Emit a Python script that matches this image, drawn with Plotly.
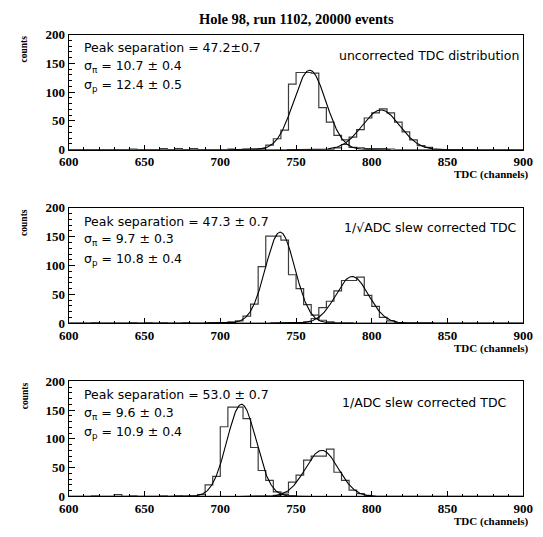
import math
import plotly.graph_objects as go

BIN_WIDTH = 5
X_MIN, X_MAX = 600, 900

title_text = "Hole 98, run 1102, 20000 events"
panel_labels = ["uncorrected TDC distribution",
                "1/\u221aADC slew corrected TDC",
                "1/ADC slew corrected TDC"]
peak_texts = ["Peak separation = 47.2\u00b10.7",
              "Peak separation = 47.3 \u00b1 0.7",
              "Peak separation = 53.0 \u00b1 0.7"]
sigma_pi_texts = ["10.7 \u00b1 0.4", "9.7 \u00b1 0.3", "9.6 \u00b1 0.3"]
sigma_p_texts = ["12.4 \u00b1 0.5", "10.8 \u00b1 0.4", "10.9 \u00b1 0.4"]
x_tick_vals = [600, 650, 700, 750, 800, 850, 900]
y_tick_vals = [0, 50, 100, 150, 200]

# ---- panel 1: uncorrected
p1_pi_start = 725
p1_pi_counts = [2, 8, 19, 34, 114, 134, 134, 133, 73, 48, 25, 17, 4, 3, 2, 2, 2, 1]
p1_pi_tail_bins = [640, 660, 670, 680, 705, 715, 720]
p1_pi_tail_counts = [1, 2, 2, 2, 1, 1, 1]
p1_p_start = 775
p1_p_counts = [3, 9, 22, 35, 55, 64, 71, 64, 48, 31, 17, 7, 4]

# ---- panel 2: 1/sqrt(ADC)
p2_pi_start = 705
p2_pi_counts = [2, 4, 12, 33, 98, 151, 151, 144, 84, 60, 32, 14, 5, 2]
p2_pi_tail_bins = [615, 640, 650, 660, 675, 690, 695, 700]
p2_pi_tail_counts = [1, 1, 1, 1, 1, 1, 1, 1]
p2_p_start = 755
p2_p_counts = [2, 8, 27, 38, 56, 74, 74, 80, 48, 29, 10, 4, 1]

# ---- panel 3: 1/ADC
p3_pi_start = 680
p3_pi_counts = [1, 3, 20, 35, 121, 155, 155, 135, 85, 45, 28, 8, 3, 1]
p3_pi_tail_bins = [615, 630, 640, 660, 670]
p3_pi_tail_counts = [1, 3, 1, 1, 1]
p3_p_start = 735
p3_p_counts = [2, 6, 25, 37, 63, 70, 70, 82, 42, 28, 11, 5, 2]

# Gaussian fit parameters (amplitude, mean, sigma) for pi and p peaks
fit_pi_amp = [138, 158, 160]
fit_pi_mean = [759.0, 739.5, 714.0]
fit_pi_sigma = [10.7, 9.7, 9.6]
fit_p_amp = [69, 81, 80]
fit_p_mean = [806.0, 787.0, 767.0]
fit_p_sigma = [12.4, 10.8, 10.9]

panels = [
    (p1_pi_start, p1_pi_counts, p1_pi_tail_bins, p1_pi_tail_counts, p1_p_start, p1_p_counts),
    (p2_pi_start, p2_pi_counts, p2_pi_tail_bins, p2_pi_tail_counts, p2_p_start, p2_p_counts),
    (p3_pi_start, p3_pi_counts, p3_pi_tail_bins, p3_pi_tail_counts, p3_p_start, p3_p_counts),
]

W, H = 543, 537
FRAME_L, FRAME_R = 61, 533
frame_tops = [28.3, 206.7, 385.0]
frame_h = 118.5


def py(px):
    return 1 - px / H


def full_hist(start, counts, tail_bins=(), tail_counts=()):
    nb = (X_MAX - X_MIN) // BIN_WIDTH
    vals = [0] * nb
    for i, c in enumerate(counts):
        idx = (start - X_MIN) // BIN_WIDTH + i
        if 0 <= idx < nb:
            vals[idx] += c
    for b, c in zip(tail_bins, tail_counts):
        vals[(b - X_MIN) // BIN_WIDTH] += c
    edges = [X_MIN + i * BIN_WIDTH for i in range(nb + 1)]
    return edges, vals + [vals[-1]]


def gauss_curve(a, m, s):
    xs = [m - 5 * s + i * (10 * s) / 300 for i in range(301)]
    ys = [a * math.exp(-0.5 * ((x - m) / s) ** 2) for x in xs]
    return xs, ys


fig = go.Figure()
HIST_COLOR = "#3c3c3c"
serif = "Liberation Serif"
sans = "DejaVu Sans"

ann = []
for k, (pis, pic, pitb, pitc, ps, pc) in enumerate(panels):
    xa = "x" if k == 0 else f"x{k+1}"
    ya = "y" if k == 0 else f"y{k+1}"
    ex, ey = full_hist(pis, pic, pitb, pitc)
    fig.add_trace(go.Scatter(x=ex, y=ey, mode="lines", line=dict(shape="hv", color=HIST_COLOR, width=1.2),
                             xaxis=xa, yaxis=ya, showlegend=False, hoverinfo="skip"))
    ex, ey = full_hist(ps, pc)
    fig.add_trace(go.Scatter(x=ex, y=ey, mode="lines", line=dict(shape="hv", color=HIST_COLOR, width=1.2),
                             xaxis=xa, yaxis=ya, showlegend=False, hoverinfo="skip"))
    gx, gy = gauss_curve(fit_pi_amp[k], fit_pi_mean[k], fit_pi_sigma[k])
    fig.add_trace(go.Scatter(x=gx, y=gy, mode="lines", line=dict(color="black", width=1.1),
                             xaxis=xa, yaxis=ya, showlegend=False, hoverinfo="skip"))
    gx, gy = gauss_curve(fit_p_amp[k], fit_p_mean[k], fit_p_sigma[k])
    fig.add_trace(go.Scatter(x=gx, y=gy, mode="lines", line=dict(color="black", width=1.1),
                             xaxis=xa, yaxis=ya, showlegend=False, hoverinfo="skip"))

    top = frame_tops[k]
    bot = top + frame_h
    axis_common = dict(showline=True, linecolor="black", linewidth=1.2, mirror=True,
                       ticks="inside", tickcolor="black", showgrid=False, zeroline=False,
                       ticklabeloverflow="allow",
                       tickfont=dict(family=serif, size=13, color="black"))
    xkey = "xaxis" if k == 0 else f"xaxis{k+1}"
    ykey = "yaxis" if k == 0 else f"yaxis{k+1}"
    fig.update_layout(**{
        xkey: dict(axis_common, range=[X_MIN, X_MAX], domain=[FRAME_L / W, FRAME_R / W],
                   anchor=ya, tickmode="array", tickvals=x_tick_vals,
                   ticktext=["<b>%d</b>" % v for v in x_tick_vals], ticklen=5,
                   minor=dict(dtick=10, tick0=600, ticklen=2.5, ticks="inside", tickcolor="black", showgrid=False)),
        ykey: dict(axis_common, range=[0, 200], domain=[py(bot), py(top)], anchor=xa,
                   tickmode="array", tickvals=y_tick_vals,
                   ticktext=["<b>%d</b>" % v for v in y_tick_vals], ticklen=6,
                   minor=dict(dtick=10, tick0=0, ticklen=3, ticks="inside", tickcolor="black", showgrid=False)),
    })

    def a(text, xpx, ypx, anchor="left", size=12.5, fam=sans, bold=False, angle=0):
        ann.append(dict(text=("<b>%s</b>" % text) if bold else text, x=xpx / W, y=py(ypx),
                        xref="paper", yref="paper", xanchor=anchor, yanchor="middle",
                        showarrow=False, textangle=angle,
                        font=dict(family=fam, size=size, color="black")))

    offs = [(42 - 28.3), (61 - 28.3), (81 - 28.3)]
    a(peak_texts[k], FRAME_L + 14, top + offs[0])
    a("\u03c3<sub>\u03c0</sub> = " + sigma_pi_texts[k], FRAME_L + 14, top + offs[1])
    a("\u03c3<sub>p</sub> = " + sigma_p_texts[k], FRAME_L + 14, top + offs[2])
    right_off = [2, 5, 15][k]
    right_y = [50 - 28.3, 226.7 - 206.7, 406.7 - 385][k]
    a(panel_labels[k], FRAME_R - right_off, top + right_y, anchor="right")
    a("TDC (channels)", 541, bot + 26, anchor="right", size=11, fam=serif, bold=True)
    ann.append(dict(text="<b>counts</b>", x=15 / W, y=py(top - 1), xref="paper", yref="paper",
                    xanchor="center", yanchor="top", showarrow=False, textangle=-90,
                    font=dict(family=serif, size=9.5, color="black")))

title_x = FRAME_L + (750 - X_MIN) / (X_MAX - X_MIN) * (FRAME_R - FRAME_L)
ann.append(dict(text="<b>%s</b>" % title_text, x=title_x / W, y=py(12), xref="paper", yref="paper",
                xanchor="center", yanchor="middle", showarrow=False,
                font=dict(family=serif, size=14.5, color="black")))

fig.update_layout(width=W, height=H, margin=dict(l=0, r=0, t=0, b=0),
                  paper_bgcolor="white", plot_bgcolor="white", annotations=ann,
                  showlegend=False)
fig.write_html("out.html")
